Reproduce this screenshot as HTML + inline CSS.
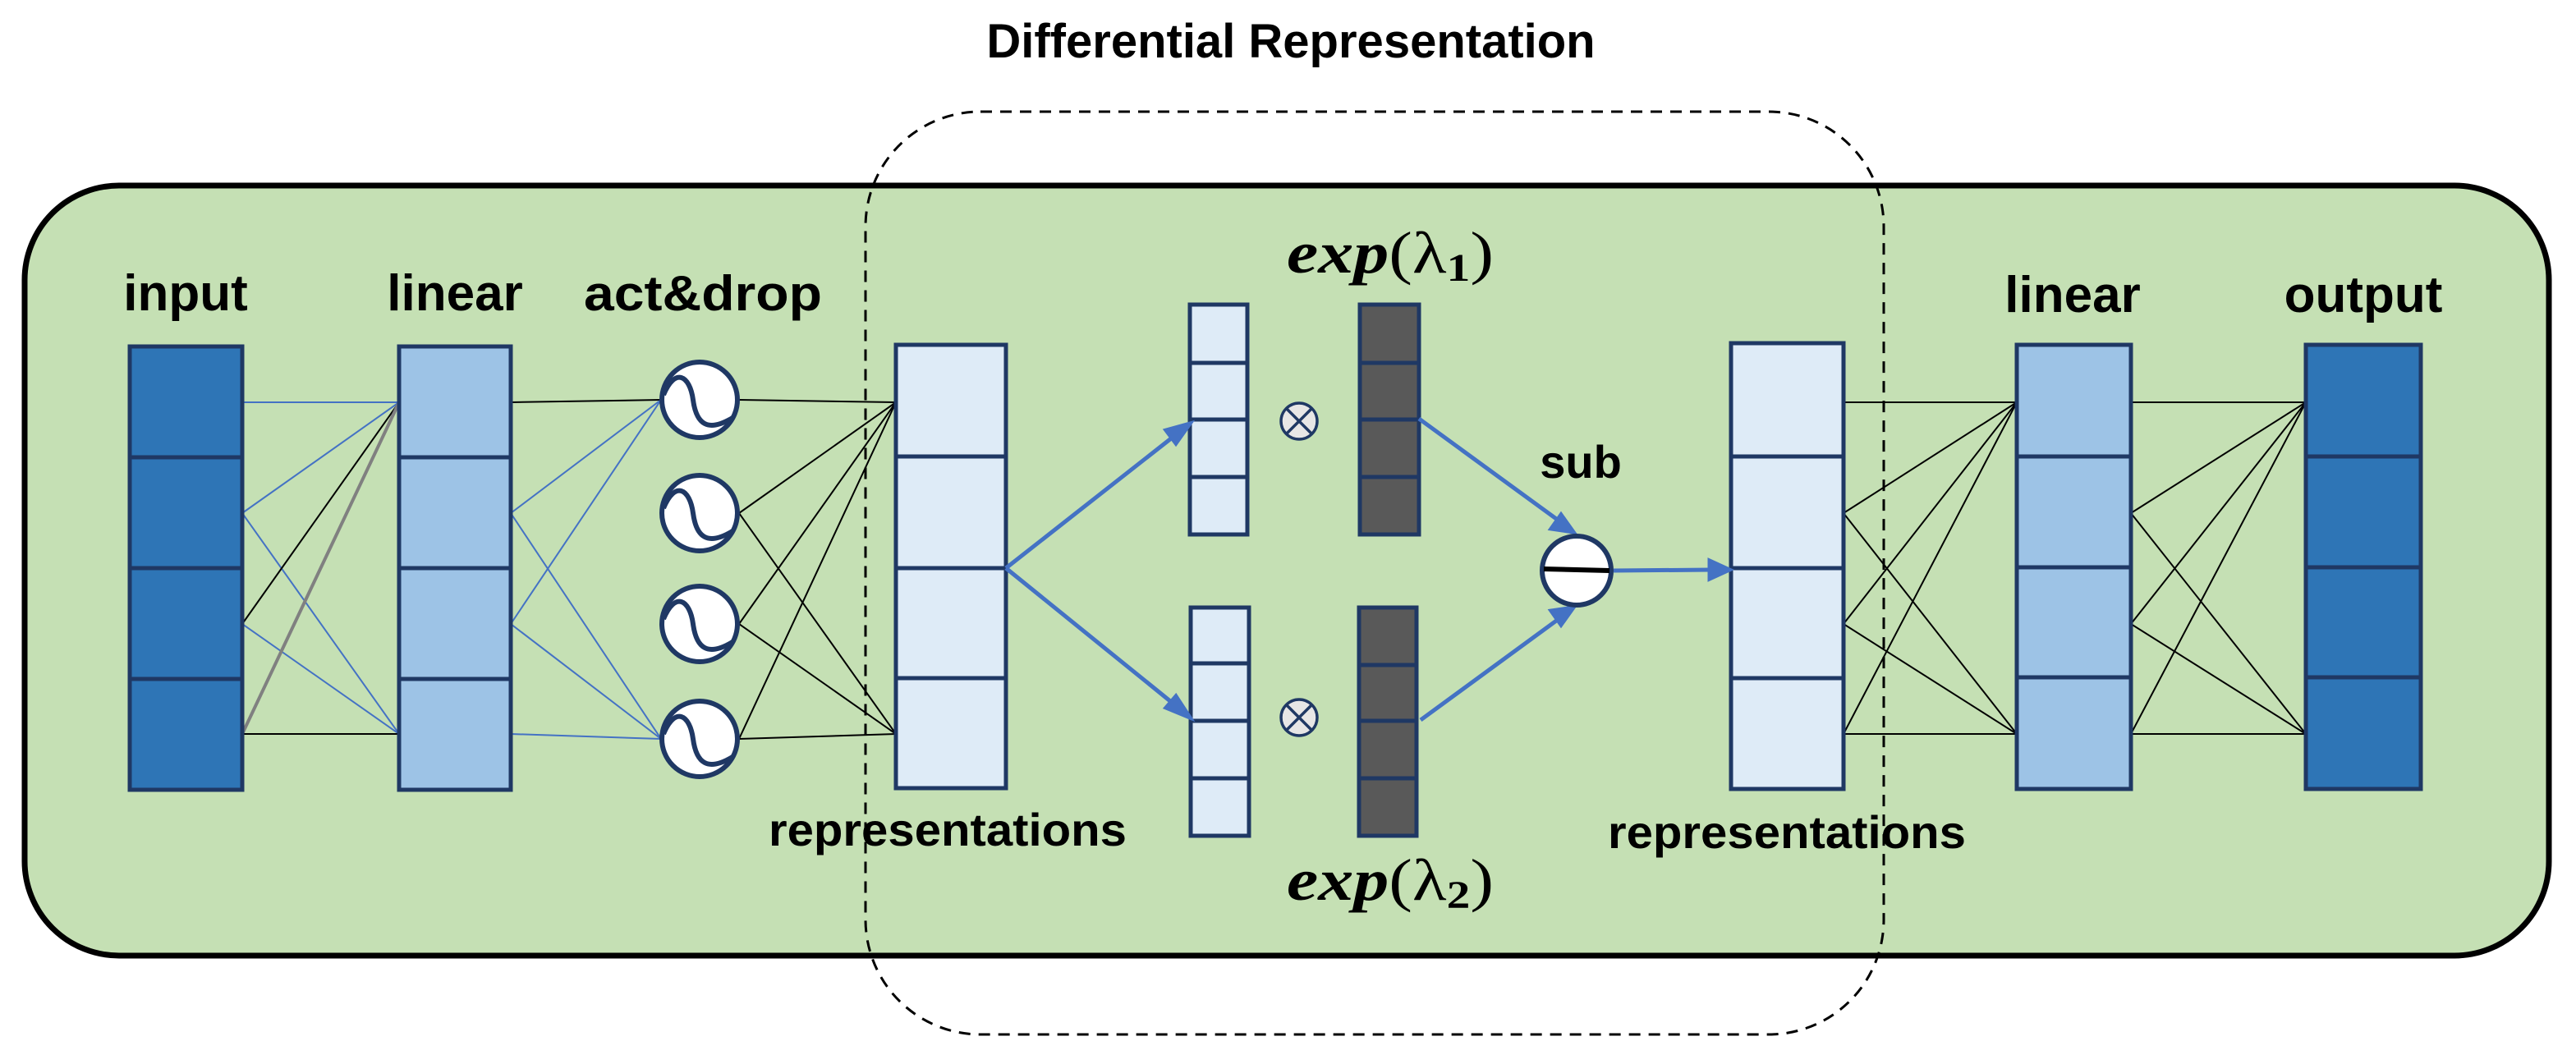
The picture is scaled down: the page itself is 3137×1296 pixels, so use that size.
<!DOCTYPE html>
<html><head><meta charset="utf-8"><style>
html,body{margin:0;padding:0;background:#fff;}
svg{display:block;}
.lbl{font-family:"Liberation Sans",sans-serif;font-weight:bold;fill:#000;}
</style></head><body>
<svg width="3137" height="1296" viewBox="0 0 3137 1296" xmlns="http://www.w3.org/2000/svg">
<!-- green box -->
<rect x="30" y="226" width="3074" height="938" rx="115" ry="115" fill="#C5E0B4" stroke="#000" stroke-width="7"/>
<!-- dashed region -->
<rect x="1054" y="136" width="1240" height="1124" rx="140" ry="140" fill="none" stroke="#000" stroke-width="3" stroke-dasharray="14,10"/>
<text class="lbl" x="1572" y="70" font-size="58" text-anchor="middle">Differential Representation</text>

<!-- labels -->
<text class="lbl" x="226" y="378" font-size="62" text-anchor="middle">input</text>
<text class="lbl" x="554" y="378" font-size="62" text-anchor="middle">linear</text>
<text class="lbl" x="856" y="378" font-size="60" text-anchor="middle" textLength="290" lengthAdjust="spacingAndGlyphs">act&amp;drop</text>
<text class="lbl" x="2524" y="380" font-size="62" text-anchor="middle">linear</text>
<text class="lbl" x="2878" y="380" font-size="62" text-anchor="middle">output</text>
<text class="lbl" x="1154" y="1030" font-size="56" text-anchor="middle" textLength="436" lengthAdjust="spacingAndGlyphs">representations</text>
<text class="lbl" x="2176" y="1033" font-size="56" text-anchor="middle" textLength="436" lengthAdjust="spacingAndGlyphs">representations</text>
<text class="lbl" x="1925" y="582" font-size="56" text-anchor="middle">sub</text>
<text x="1567" y="332" font-size="72" font-family="'Liberation Serif',serif" textLength="252" lengthAdjust="spacingAndGlyphs"><tspan font-style="italic" font-weight="bold">exp</tspan><tspan>(λ</tspan><tspan font-size="48" font-weight="bold" dy="10">1</tspan><tspan dy="-10">)</tspan></text>
<text x="1567" y="1096" font-size="72" font-family="'Liberation Serif',serif" textLength="252" lengthAdjust="spacingAndGlyphs"><tspan font-style="italic" font-weight="bold">exp</tspan><tspan>(λ</tspan><tspan font-size="48" font-weight="bold" dy="10">2</tspan><tspan dy="-10">)</tspan></text>

<g stroke-width="2" fill="none">
<line x1="295" y1="490" x2="486" y2="490" stroke="#4472C4"/>
<line x1="295" y1="625" x2="486" y2="490" stroke="#4472C4"/>
<line x1="295" y1="625" x2="486" y2="894" stroke="#4472C4"/>
<line x1="295" y1="760" x2="486" y2="490" stroke="#000"/>
<line x1="295" y1="760" x2="486" y2="894" stroke="#4472C4"/>
<line x1="295" y1="894" x2="486" y2="490" stroke="#808080" stroke-width="4"/>
<line x1="295" y1="894" x2="486" y2="894" stroke="#000"/>
<line x1="622" y1="490" x2="805" y2="487" stroke="#000"/>
<line x1="622" y1="625" x2="805" y2="487" stroke="#4472C4"/>
<line x1="622" y1="625" x2="805" y2="900" stroke="#4472C4"/>
<line x1="622" y1="760" x2="805" y2="487" stroke="#4472C4"/>
<line x1="622" y1="760" x2="805" y2="900" stroke="#4472C4"/>
<line x1="622" y1="894" x2="805" y2="900" stroke="#4472C4"/>
<line x1="900" y1="487" x2="1091" y2="490" stroke="#000"/>
<line x1="900" y1="625" x2="1091" y2="490" stroke="#000"/>
<line x1="900" y1="625" x2="1091" y2="894" stroke="#000"/>
<line x1="900" y1="760" x2="1091" y2="490" stroke="#000"/>
<line x1="900" y1="760" x2="1091" y2="894" stroke="#000"/>
<line x1="900" y1="900" x2="1091" y2="490" stroke="#000"/>
<line x1="900" y1="900" x2="1091" y2="894" stroke="#000"/>
<line x1="2245" y1="490" x2="2456" y2="490" stroke="#000"/>
<line x1="2245" y1="625" x2="2456" y2="490" stroke="#000"/>
<line x1="2245" y1="625" x2="2456" y2="894" stroke="#000"/>
<line x1="2245" y1="760" x2="2456" y2="490" stroke="#000"/>
<line x1="2245" y1="760" x2="2456" y2="894" stroke="#000"/>
<line x1="2245" y1="894" x2="2456" y2="490" stroke="#000"/>
<line x1="2245" y1="894" x2="2456" y2="894" stroke="#000"/>
<line x1="2595" y1="490" x2="2808" y2="490" stroke="#000"/>
<line x1="2595" y1="625" x2="2808" y2="490" stroke="#000"/>
<line x1="2595" y1="625" x2="2808" y2="894" stroke="#000"/>
<line x1="2595" y1="760" x2="2808" y2="490" stroke="#000"/>
<line x1="2595" y1="760" x2="2808" y2="894" stroke="#000"/>
<line x1="2595" y1="894" x2="2808" y2="490" stroke="#000"/>
<line x1="2595" y1="894" x2="2808" y2="894" stroke="#000"/>
</g>

<g stroke="#1F3864" stroke-width="5">
<rect x="158" y="422" width="137" height="540" fill="#2E75B6"/>
<line x1="158" y1="557" x2="295" y2="557"/><line x1="158" y1="692" x2="295" y2="692"/><line x1="158" y1="827" x2="295" y2="827"/>
<rect x="486" y="422" width="136" height="540" fill="#9DC3E6"/>
<line x1="486" y1="557" x2="622" y2="557"/><line x1="486" y1="692" x2="622" y2="692"/><line x1="486" y1="827" x2="622" y2="827"/>
<rect x="1091" y="420" width="134" height="540" fill="#DEEBF7"/>
<line x1="1091" y1="556" x2="1225" y2="556"/><line x1="1091" y1="692" x2="1225" y2="692"/><line x1="1091" y1="826" x2="1225" y2="826"/>
<rect x="2108" y="418" width="137" height="543" fill="#DEEBF7"/>
<line x1="2108" y1="556" x2="2245" y2="556"/><line x1="2108" y1="692" x2="2245" y2="692"/><line x1="2108" y1="826" x2="2245" y2="826"/>
<rect x="2456" y="420" width="139" height="541" fill="#9DC3E6"/>
<line x1="2456" y1="556" x2="2595" y2="556"/><line x1="2456" y1="691" x2="2595" y2="691"/><line x1="2456" y1="825" x2="2595" y2="825"/>
<rect x="2808" y="420" width="140" height="541" fill="#2E75B6"/>
<line x1="2808" y1="556" x2="2948" y2="556"/><line x1="2808" y1="691" x2="2948" y2="691"/><line x1="2808" y1="825" x2="2948" y2="825"/>
<rect x="1449" y="371" width="70" height="280" fill="#DEEBF7"/>
<line x1="1449" y1="442" x2="1519" y2="442"/><line x1="1449" y1="511" x2="1519" y2="511"/><line x1="1449" y1="581" x2="1519" y2="581"/>
<rect x="1656" y="371" width="72" height="280" fill="#595959"/>
<line x1="1656" y1="442" x2="1728" y2="442"/><line x1="1656" y1="511" x2="1728" y2="511"/><line x1="1656" y1="581" x2="1728" y2="581"/>
<rect x="1450" y="740" width="71" height="278" fill="#DEEBF7"/>
<line x1="1450" y1="808" x2="1521" y2="808"/><line x1="1450" y1="878" x2="1521" y2="878"/><line x1="1450" y1="948" x2="1521" y2="948"/>
<rect x="1655" y="740" width="70" height="278" fill="#595959"/>
<line x1="1655" y1="810" x2="1725" y2="810"/><line x1="1655" y1="878" x2="1725" y2="878"/><line x1="1655" y1="948" x2="1725" y2="948"/>
</g>

<g stroke="#1F3864" stroke-width="6" fill="#fff">
<g transform="translate(852,487)"><circle r="46"/><path d="M-44,-6 C-30,-40 -12,-30 -8,0 C-4,30 10,40 40,22" fill="none"/></g>
<g transform="translate(852,625)"><circle r="46"/><path d="M-44,-6 C-30,-40 -12,-30 -8,0 C-4,30 10,40 40,22" fill="none"/></g>
<g transform="translate(852,760)"><circle r="46"/><path d="M-44,-6 C-30,-40 -12,-30 -8,0 C-4,30 10,40 40,22" fill="none"/></g>
<g transform="translate(852,900)"><circle r="46"/><path d="M-44,-6 C-30,-40 -12,-30 -8,0 C-4,30 10,40 40,22" fill="none"/></g>
</g>

<g stroke="#1F3864" stroke-width="3.5" fill="#E7E6E6">
<circle cx="1582" cy="513" r="22"/><line x1="1567" y1="498" x2="1597" y2="528"/><line x1="1597" y1="498" x2="1567" y2="528"/>
<circle cx="1582" cy="874" r="22"/><line x1="1567" y1="859" x2="1597" y2="889"/><line x1="1597" y1="859" x2="1567" y2="889"/>
</g>

<g stroke="#4472C4" stroke-width="5" fill="#4472C4">
<line x1="1225" y1="692" x2="1430" y2="531"/><polygon points="1449,516 1420,524 1432,540"/>
<line x1="1225" y1="692" x2="1430" y2="858"/><polygon points="1449,874 1432,848 1420,862"/>
<line x1="1728" y1="510" x2="1898" y2="634"/><polygon points="1916,648 1889,644 1901,627"/>
<line x1="1730" y1="877" x2="1898" y2="754"/><polygon points="1916,740 1889,744 1901,761"/>
<line x1="1965" y1="695" x2="2085" y2="694"/><polygon points="2106,694 2082,683 2082,705"/>
</g>
<circle cx="1920" cy="695" r="42" fill="#fff" stroke="#1F3864" stroke-width="6"/>
<line x1="1880" y1="693" x2="1960" y2="695" stroke="#000" stroke-width="6"/>
</svg>
</body></html>
